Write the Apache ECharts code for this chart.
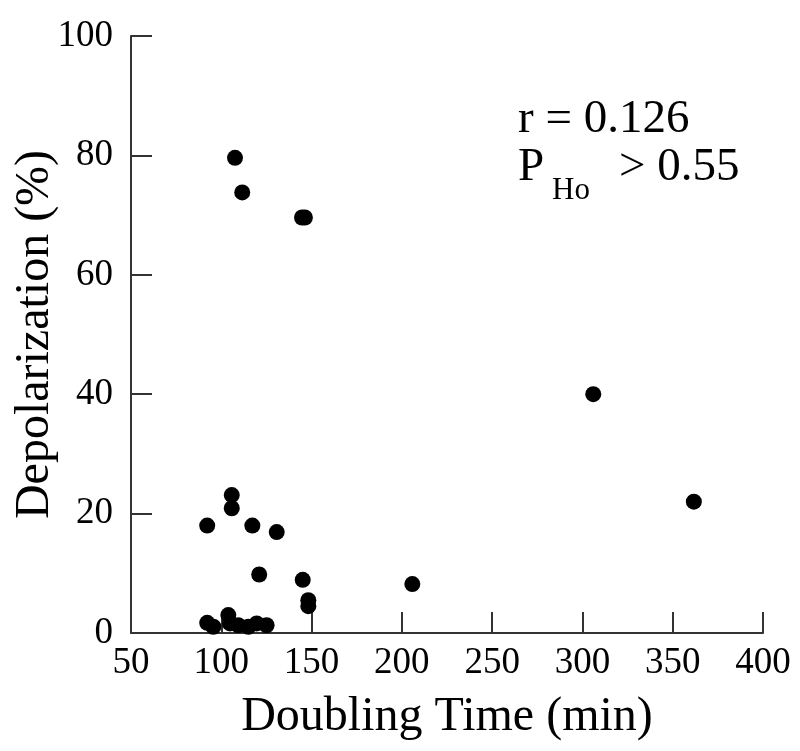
<!DOCTYPE html>
<html>
<head>
<meta charset="utf-8">
<title>Depolarization vs Doubling Time</title>
<script src="https://cdn.jsdelivr.net/npm/echarts@6/dist/echarts.min.js"></script>
<style>
  html, body { margin: 0; padding: 0; background: #fff; }
  #chart { width: 800px; height: 751px; }
</style>
</head>
<body>
<div id="chart"></div>
<script>
  // doubling time (min) and depolarization (%) for each point
  var doublingTime = [
    107.6, 111.6, 144.7, 146.3, 306.0, 361.7, 205.8,
    105.8, 105.8, 92.2, 117.2, 130.7, 121.0, 145.1, 148.2, 148.2,
    92.2, 95.6, 103.9, 104.8, 109.4, 115.0, 119.6, 125.1
  ]
  var depolarization = [
    79.6, 73.8, 69.6, 69.6, 40.0, 22.0, 8.2,
    23.1, 20.9, 18.0, 18.0, 16.9, 9.8, 8.9, 5.5, 4.5,
    1.7, 1.05, 3.0, 1.6, 1.3, 1.05, 1.6, 1.3
  ]
  var xTicks = [50, 100, 150, 200, 250, 300, 350, 400]
  var yTicks = [0, 20, 40, 60, 80, 100]

  var points = doublingTime.map(function (x, i) {
    return [x, depolarization[i]]
  })

  var serif = '"Liberation Serif", "DejaVu Serif", serif'
  var axisColor = '#333'

  var chart = echarts.init(document.getElementById('chart'))
  chart.setOption({
    backgroundColor: '#fff',
    animation: false,
    grid: {
      left: 131,
      right: 37,
      top: 36,
      bottom: 118,
      containLabel: false,
      outerBoundsMode: 'none'
    },
    xAxis: {
      type: 'value',
      min: xTicks[0],
      max: xTicks[xTicks.length - 1],
      interval: xTicks[1] - xTicks[0],
      name: 'Doubling Time (min)',
      nameLocation: 'middle',
      nameGap: 60,
      nameMoveOverlap: false,
      nameTextStyle: { fontFamily: serif, fontSize: 48, color: '#000' },
      axisLine: { lineStyle: { color: axisColor, width: 2 } },
      axisTick: { inside: true, length: 21, lineStyle: { color: axisColor, width: 2 } },
      axisLabel: { fontFamily: serif, fontSize: 37, color: '#000', margin: 12 },
      splitLine: { show: false }
    },
    yAxis: {
      type: 'value',
      min: yTicks[0],
      max: yTicks[yTicks.length - 1],
      interval: yTicks[1] - yTicks[0],
      name: 'Depolarization (%)',
      nameLocation: 'middle',
      nameGap: 72,
      nameMoveOverlap: false,
      nameTextStyle: { fontFamily: serif, fontSize: 48, color: '#000' },
      axisLine: { lineStyle: { color: axisColor, width: 2 } },
      axisTick: { inside: true, length: 21, lineStyle: { color: axisColor, width: 2 } },
      axisLabel: { fontFamily: serif, fontSize: 37, color: '#000', margin: 18 },
      splitLine: { show: false }
    },
    series: [{
      type: 'scatter',
      data: points,
      symbol: 'circle',
      symbolSize: 16,
      itemStyle: { color: '#000', opacity: 1 }
    }],
    graphic: [
      {
        type: 'text',
        x: 518,
        y: 120,
        style: { text: 'r = 0.126', font: '47px ' + serif, fill: '#000', verticalAlign: 'middle' }
      },
      {
        type: 'text',
        x: 518,
        y: 168,
        style: { text: 'P', font: '47px ' + serif, fill: '#000', verticalAlign: 'middle' }
      },
      {
        type: 'text',
        x: 552,
        y: 191,
        style: { text: 'Ho', font: '31px ' + serif, fill: '#000', verticalAlign: 'middle' }
      },
      {
        type: 'text',
        x: 619,
        y: 168,
        style: { text: '> 0.55', font: '47px ' + serif, fill: '#000', verticalAlign: 'middle' }
      }
    ]
  })
</script>
</body>
</html>
